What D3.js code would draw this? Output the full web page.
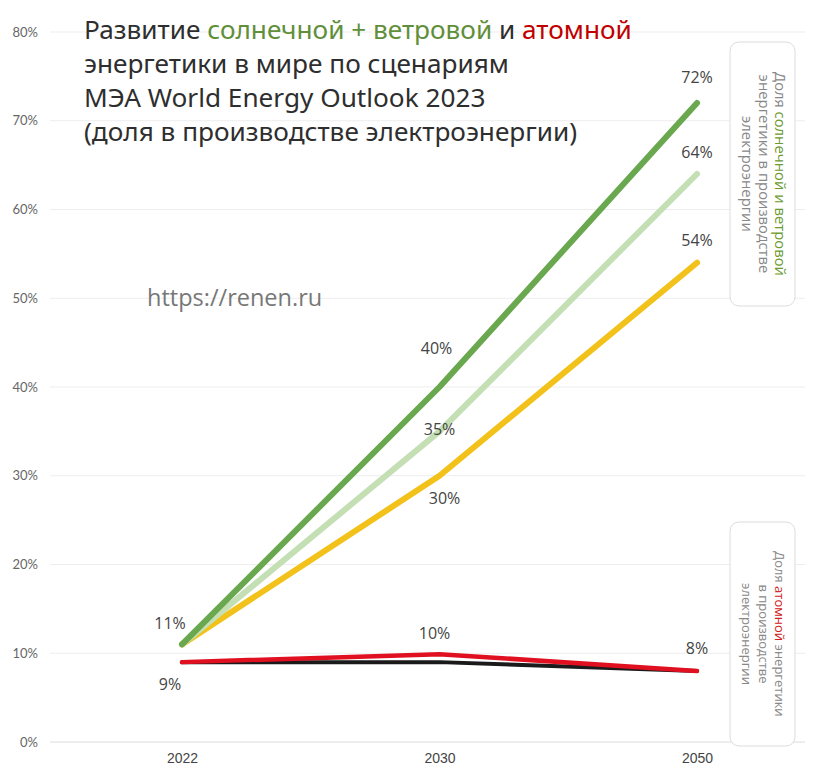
<!DOCTYPE html>
<html><head><meta charset="utf-8">
<script src="https://cdn.jsdelivr.net/npm/d3@7"></script>
<style>body{margin:0;background:#fff}svg{display:block}</style>
</head><body>
<svg id="c" width="816" height="769"></svg>
<script>
const years = ["2022", "2030", "2050"];
const solarWindHigh = [11, 40, 72];
const solarWindMid = [11, 35, 64];
const solarWindLow = [11, 30, 54];
const nuclearRed = [9, 9.9, 8];
const nuclearBlack = [9, 9, 8];
const yTicks = [0, 10, 20, 30, 40, 50, 60, 70, 80];
const labelsHigh = ["", "40%", "72%"];
const labelsMid = ["", "35%", "64%"];
const labelsLow = ["11%", "30%", "54%"];
const labelsNuc = ["9%", "10%", "8%"];

const svg = d3.select("#c");
const x = d3.scalePoint().domain(years).range([182, 697]);
const y = d3.scaleLinear().domain([0, 80]).range([742, 32]);

// grid
svg.append("g").selectAll("line").data(yTicks).join("line")
  .attr("x1", 50).attr("x2", 805)
  .attr("y1", d => y(d)).attr("y2", d => y(d))
  .attr("stroke", d => d === 0 ? "#dcdcdc" : "#ededed").attr("stroke-width", 1);

// y axis labels
const yAxis = d3.axisLeft(y).tickValues(yTicks).tickFormat(d => d + "%").tickSize(0).tickPadding(0);
const ga = svg.append("g").attr("transform", "translate(38,0)").call(yAxis);
ga.select(".domain").remove();
ga.selectAll("text").attr("font-family", "Lato, 'Open Sans', sans-serif").attr("font-size", 13).attr("fill", "#666");

// x axis labels
const xAxis = d3.axisBottom(x).tickSize(0).tickPadding(0);
const gx = svg.append("g").attr("transform", "translate(0,753)").call(xAxis);
gx.select(".domain").remove();
gx.selectAll("text").attr("font-family", "'Liberation Sans', Arial, sans-serif").attr("font-size", 14).attr("fill", "#444");

// title
const title = svg.append("text").attr("font-family", "'Noto Sans', 'Open Sans', sans-serif").attr("font-size", 26.2).attr("fill", "#2e2e2e");
const t1 = title.append("tspan").attr("x", 84).attr("y", 39);
t1.append("tspan").text("Развитие ");
t1.append("tspan").attr("fill", "#5f8f3a").text("солнечной + ветровой");
t1.append("tspan").text(" и ");
t1.append("tspan").attr("fill", "#c00000").text("атомной");
title.append("tspan").attr("x", 84).attr("y", 73).text("энергетики в мире по сценариям");
title.append("tspan").attr("x", 84).attr("y", 107).text("МЭА World Energy Outlook 2023");
title.append("tspan").attr("x", 84).attr("y", 141).text("(доля в производстве электроэнергии)");

svg.append("text").attr("x", 147).attr("y", 306)
  .attr("font-family", "'Open Sans', sans-serif").attr("font-size", 23.5).attr("fill", "#777")
  .text("https://renen.ru");

// lines
const line = d3.line().x((d, i) => x(years[i])).y(d => y(d));
const series = [
  {v: nuclearBlack, c: "#1a1a1a", w: 4},
  {v: nuclearRed, c: "#e01020", w: 4.5},
  {v: solarWindLow, c: "#f2c21a", w: 6},
  {v: solarWindMid, c: "#c3dfb3", w: 6},
  {v: solarWindHigh, c: "#6aa84f", w: 6}
];
svg.append("g").selectAll("path").data(series).join("path")
  .attr("d", d => line(d.v)).attr("fill", "none")
  .attr("stroke", d => d.c).attr("stroke-width", d => d.w)
  .attr("stroke-linecap", "round").attr("stroke-linejoin", "round");

// data labels
const lab = svg.append("g").attr("font-family", "'Open Sans', sans-serif").attr("font-size", 16)
  .attr("fill", "#444").attr("text-anchor", "middle");
function addLabels(vals, labels, dxs, dys) {
  labels.forEach((l, i) => {
    if (!l) return;
    lab.append("text").attr("x", x(years[i]) + dxs[i]).attr("y", y(vals[i]) + dys[i]).text(l);
  });
}
addLabels(solarWindHigh, labelsHigh, [0, -3, 0], [0, -33, -20]);
addLabels(solarWindMid, labelsMid, [0, 0, 0], [0, 4, -16]);
addLabels(solarWindLow, labelsLow, [-12, 5, 0], [-15, 28, -17]);
addLabels(nuclearRed, labelsNuc, [-12, -5, 0], [28, -15, -17]);

// side boxes
function sideBox(x0, y0, w, h, lines, accent, accentColor, fs) {
  svg.append("rect").attr("x", x0).attr("y", y0).attr("width", w).attr("height", h)
    .attr("rx", 9).attr("fill", "#fff").attr("stroke", "#dcdcdc").attr("stroke-width", 1);
  const cy = y0 + h / 2;
  const t = svg.append("text").attr("transform", `translate(${x0 + 45},${cy}) rotate(90)`)
    .attr("font-family", "'Open Sans', sans-serif").attr("font-size", fs).attr("fill", "#888")
    .attr("text-anchor", "middle");
  lines.forEach((ln, i) => {
    const ts = t.append("tspan").attr("x", 0).attr("y", i * 16.5);
    if (i === 0) {
      const parts = ln.split(accent);
      ts.append("tspan").text(parts[0]);
      ts.append("tspan").attr("fill", accentColor).text(accent);
      ts.append("tspan").text(parts[1]);
    } else ts.text(ln);
  });
}
sideBox(730, 42, 65, 264, ["Доля солнечной и ветровой", "энергетики в производстве", "электроэнергии"], "солнечной и ветровой", "#6b9a2e", 14.8);
sideBox(730, 522, 65, 224, ["Доля атомной энергетики", "в производстве", "электроэнергии"], "атомной", "#d02020", 13);
</script>
</body></html>
